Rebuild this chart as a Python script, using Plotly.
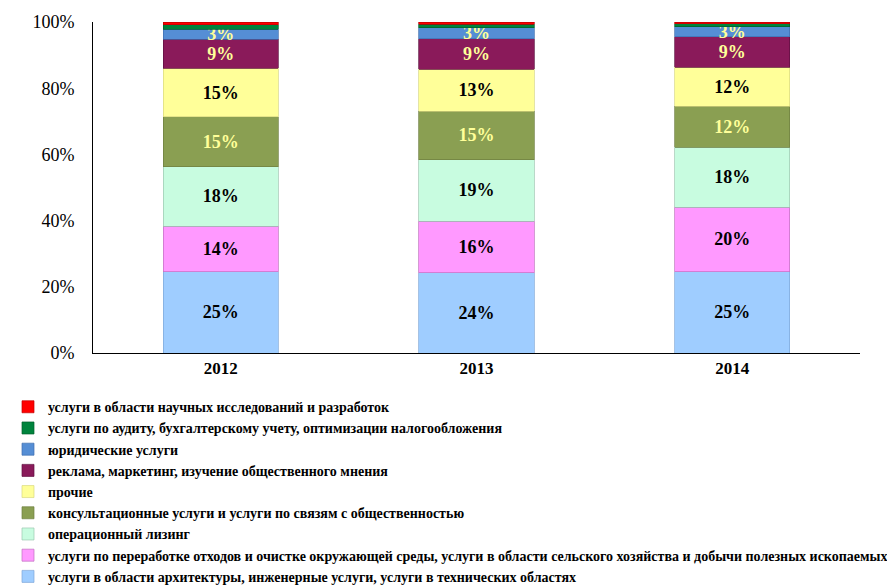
import plotly.graph_objects as go

years = ["2012", "2013", "2014"]

series_names = [
    "услуги в области архитектуры, инженерные услуги, услуги в технических областях",
    "услуги по переработке отходов и очистке окружающей среды, услуги в области сельского хозяйства и добычи полезных ископаемых",
    "операционный лизинг",
    "консультационные услуги и услуги по связям с общественностью",
    "прочие",
    "реклама, маркетинг, изучение общественного мнения",
    "юридические услуги",
    "услуги по аудиту, бухгалтерскому учету, оптимизации налогообложения",
    "услуги в области научных исследований и разработок",
]

architecture = [24.6, 24.2, 24.6]
waste_agri = [13.7, 15.6, 19.5]
leasing = [18.0, 18.6, 18.1]
consulting = [15.1, 14.7, 12.4]
other = [14.6, 12.6, 11.7]
advertising = [8.8, 9.3, 9.2]
legal = [3.0, 3.2, 3.0]
audit = [1.3, 1.1, 1.0]
research = [0.9, 0.7, 0.5]

series_values = [architecture, waste_agri, leasing, consulting, other,
                 advertising, legal, audit, research]

colors = ["#9FCDFF", "#FF99FF", "#C8FCE0", "#8A9F52", "#FFFF99",
          "#8A1A5A", "#558ED5", "#00843D", "#FF0000"]
edge_colors = ["#7FA8D8", "#C070C0", "#9CC8B0", "#6E7F40", "#D8D880",
               "#5E1040", "#3F6FAF", "#00602C", "#C00000"]
show_labels = [True, True, True, True, True, True, True, False, False]
label_colors = ["#000000", "#000000", "#000000", "#FFFF99", "#000000",
                "#FFFF99", "#FFFF99", "#000000", "#000000"]

SERIF = "Liberation Serif, Times New Roman, serif"

fig = go.Figure()
for name, vals, col, ecol, show, lcol in zip(series_names, series_values, colors,
                                             edge_colors, show_labels, label_colors):
    fig.add_trace(go.Bar(
        x=years, y=vals, name=name,
        marker=dict(color=col, line=dict(color=ecol, width=0.7)),
        texttemplate="%{y:.0f}%" if show else None,
        textposition="inside" if show else "none",
        insidetextanchor="middle",
        textangle=0,
        constraintext="none",
        insidetextfont=dict(family=SERIF, size=18, color=lcol, weight="bold"),
        hoverinfo="skip",
    ))

fig.update_layout(
    barmode="stack",
    bargap=0.55,
    width=895, height=585,
    margin=dict(l=85, r=43, t=14, b=240, autoexpand=False),
    plot_bgcolor="white", paper_bgcolor="white",
    font=dict(family=SERIF, color="black"),
    uniformtext=dict(minsize=18, mode="show"),
    showlegend=True,
    legend=dict(
        traceorder="reversed",
        orientation="v",
        xref="container", yref="container",
        x=0, xanchor="left",
        y=0.345, yanchor="top",
        font=dict(family=SERIF, size=14, color="black", weight="bold"),
        tracegroupgap=0,
        itemwidth=30,
        bgcolor="rgba(0,0,0,0)",
    ),
)
fig.update_yaxes(
    range=[0, 100], tickvals=[0, 20, 40, 60, 80, 100],
    ticktext=["0%", "20%", "40%", "60%", "80%", "100%"],
    showgrid=False, zeroline=False,
    showline=True, linecolor="black", linewidth=1,
    ticks="", ticklabelstandoff=14,
    tickfont=dict(size=18, family=SERIF),
)
fig.update_xaxes(
    showgrid=False, showline=True, linecolor="black", linewidth=1,
    ticks="",
    tickfont=dict(size=17, family=SERIF, weight="bold"),
)

fig.write_html("out.html")
